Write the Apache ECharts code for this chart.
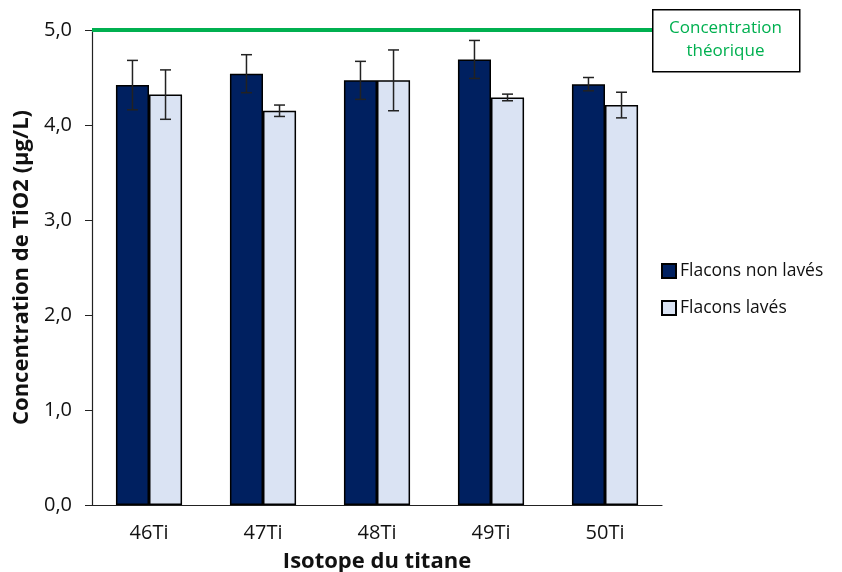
<!DOCTYPE html>
<html><head><meta charset="utf-8">
<script src="https://cdn.jsdelivr.net/npm/echarts@6/dist/echarts.min.js"></script>
<style>html,body{margin:0;padding:0;background:#fff}#c{width:842px;height:572px}</style>
</head><body><div id="c"></div>
<script>
const categories = ['46Ti','47Ti','48Ti','49Ti','50Ti'];
const nonLaves = [4.42, 4.54, 4.47, 4.69, 4.43];
const nonLavesErr = [0.26, 0.20, 0.20, 0.20, 0.07];
const laves = [4.32, 4.15, 4.47, 4.29, 4.21];
const lavesErr = [0.26, 0.06, 0.32, 0.035, 0.135];
const theorique = 5.0;

const FONT = '"Open Sans", "Noto Sans", sans-serif';
const chart = echarts.init(document.getElementById('c'));

function errSeries(vals, errs, idx) {
  return {
    type: 'custom',
    name: 'err' + idx,
    z: 10,
    data: vals.map((v, i) => [i, v - errs[i], v + errs[i]]),
    renderItem: function (params, api) {
      const ci = api.value(0);
      const lo = api.coord([ci, api.value(1)]);
      const hi = api.coord([ci, api.value(2)]);
      const bw = api.size([1, 0])[0];
      const barW = bw * 0.29;
      const x = lo[0] + (idx === 0 ? -barW / 2 : barW / 2);
      const cap = 5.5;
      const st = { stroke: '#222', lineWidth: 1.5 };
      return { type: 'group', children: [
        { type: 'line', shape: { x1: x, y1: hi[1], x2: x, y2: lo[1] }, style: st },
        { type: 'line', shape: { x1: x - cap, y1: hi[1], x2: x + cap, y2: hi[1] }, style: st },
        { type: 'line', shape: { x1: x - cap, y1: lo[1], x2: x + cap, y2: lo[1] }, style: st }
      ]};
    }
  };
}

chart.setOption({
  animation: false,
  textStyle: { fontFamily: FONT },
  grid: { left: 92, right: 180, top: 30, bottom: 67, containLabel: false, outerBoundsMode: 'none' },
  legend: {
    orient: 'vertical', left: 656, top: 257, itemGap: 19,
    itemWidth: 14, itemHeight: 14, icon: 'rect',
    data: ['Flacons non lavés', 'Flacons lavés'],
    textStyle: { fontSize: 17.5, color: '#111', fontFamily: FONT, padding: [0, 0, 0, -1] }
  },
  xAxis: {
    type: 'category', data: categories,
    axisLine: { lineStyle: { color: '#222', width: 1.2 } },
    axisTick: { length: 7, lineStyle: { color: '#222' } },
    axisLabel: { fontSize: 20, color: '#111', margin: 18 },
    name: 'Isotope du titane', nameLocation: 'middle', nameGap: 46,
    nameTextStyle: { fontSize: 22, fontWeight: 'bold', color: '#111' }
  },
  yAxis: {
    type: 'value', min: 0, max: 5, interval: 1,
    axisLine: { show: true, lineStyle: { color: '#222', width: 1.2 } },
    axisTick: { show: true, length: 7, lineStyle: { color: '#222' } },
    splitLine: { show: false },
    axisLabel: { fontSize: 20, color: '#111', margin: 20,
      formatter: v => v.toFixed(1).replace('.', ',') },
    name: 'Concentration de TiO2 (µg/L)', nameLocation: 'middle', nameGap: 58,
    nameTextStyle: { fontSize: 22, fontWeight: 'bold', color: '#111' }
  },
  series: [
    { name: 'Flacons non lavés', type: 'bar', data: nonLaves, barGap: '0%', barCategoryGap: '42%',
      itemStyle: { color: '#002060', borderColor: '#000', borderWidth: 1.5 },
      markLine: { symbol: 'none', silent: true, label: { show: false },
        lineStyle: { color: '#00B050', width: 4, type: 'solid' },
        data: [[{ coord: [-0.5, theorique], x: 92 }, { x: 652, y: 30 }]] } },
    { name: 'Flacons lavés', type: 'bar', data: laves,
      itemStyle: { color: '#DAE3F3', borderColor: '#000', borderWidth: 1.5 } },
    errSeries(nonLaves, nonLavesErr, 0),
    errSeries(laves, lavesErr, 1)
  ],
  graphic: [
    { type: 'rect', left: 652, top: 9, shape: { width: 147, height: 62 },
      style: { fill: '#fff', stroke: '#000', lineWidth: 1.5 } },
    { type: 'text', x: 725.5, y: 40, style: { text: 'Concentration\nthéorique', align: 'center', verticalAlign: 'middle',
      fill: '#00B050', fontSize: 17, lineHeight: 23, fontFamily: FONT } }
  ]
});
</script></body></html>
